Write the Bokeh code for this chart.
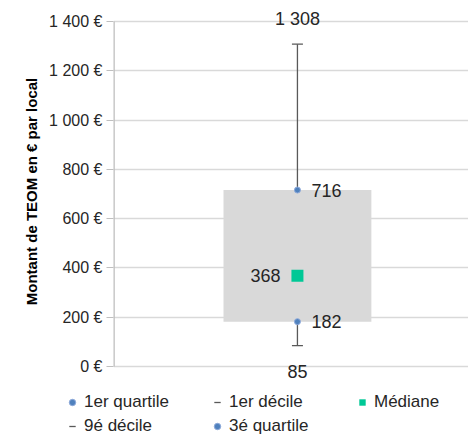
from bokeh.plotting import figure
from bokeh.layouts import column
from bokeh.models import (ColumnDataSource, Range1d, FixedTicker, Legend, LegendItem)
from bokeh.core.properties import value
from bokeh.embed import file_html
from bokeh.resources import INLINE

# ---- data ----
categories = ["TEOM"]
decile1 = [85]
quartile1 = [182]
median = [368]
quartile3 = [716]
decile9 = [1308]
y_ticks = [0, 200, 400, 600, 800, 1000, 1200, 1400]
y_tick_labels = ["0 €", "200 €", "400 €", "600 €", "800 €", "1 000 €", "1 200 €", "1 400 €"]


def fmt(v):
    return "{:,}".format(v).replace(",", " ")


# ---- layout (pixels) ----
W, H = 468, 434
LEFT = 113
LEG_H = 52
TOP_H = H - LEG_H             # main frame spans y = 0 .. TOP_H
Y0_PX, YTOP_PX = 366, 21       # pixel rows of the 0 and top-tick gridlines
ymin, ymax = y_ticks[0], y_ticks[-1]
ppu = (Y0_PX - YTOP_PX) / (ymax - ymin)
y_start = ymin - (TOP_H - Y0_PX) / ppu
y_end = ymax + YTOP_PX / ppu
x_start, x_end = 0.5, 1.465

xpos = [1.0 for _ in categories]
src = ColumnDataSource(dict(
    x=xpos, d1=decile1, q1=quartile1, med=median, q3=quartile3, d9=decile9,
    d1_t=[fmt(v) for v in decile1], q1_t=[fmt(v) for v in quartile1],
    med_t=[fmt(v) for v in median], q3_t=[fmt(v) for v in quartile3],
    d9_t=[fmt(v) for v in decile9],
))

FONT = "Liberation Sans"
WHISK = "#595959"
BLUE = "#4f81bd"
BLUE_EDGE = "#8eaadb"
GREEN = "#00c896"

p = figure(width=W, height=TOP_H, output_backend="svg", toolbar_location=None,
           x_range=Range1d(x_start, x_end), y_range=Range1d(y_start, y_end),
           min_border_left=LEFT, min_border_right=0, min_border_top=0,
           min_border_bottom=0)
p.outline_line_color = None
p.background_fill_color = "white"
p.border_fill_color = "white"
p.frame_align = False

# axis line (only over the tick span)
p.segment(x0=[x_start], x1=[x_start], y0=[ymin], y1=[ymax], line_color="#bfbfbf", line_width=2.6)

# box (interquartile)
p.vbar(x="x", width=0.402, bottom="q1", top="q3", source=src,
       fill_color="#d9d9d9", line_color=None)

# whiskers
p.segment(x0="x", x1="x", y0="d1", y1="q1", source=src, line_color=WHISK, line_width=1.3)
p.segment(x0="x", x1="x", y0="q3", y1="d9", source=src, line_color=WHISK, line_width=1.3)
p.scatter(x="x", y="d1", source=src, marker="dash", size=11, line_color=WHISK, line_width=1.3)
p.scatter(x="x", y="d9", source=src, marker="dash", size=11, line_color=WHISK, line_width=1.3)

# quartile points
p.scatter(x="x", y="q1", source=src, marker="circle", size=6,
          fill_color=BLUE, line_color=BLUE_EDGE, line_width=1)
p.scatter(x="x", y="q3", source=src, marker="circle", size=6,
          fill_color=BLUE, line_color=BLUE_EDGE, line_width=1)

# median
p.scatter(x="x", y="med", source=src, marker="square", size=12,
          fill_color=GREEN, line_color=None)

# data labels
lab = dict(source=src, text_font=value(FONT), text_font_size="18px", text_color="#262626")
p.text(x="x", y="q3", text="q3_t", x_offset=14, text_baseline="middle", text_align="left", **lab)
p.text(x="x", y="q1", text="q1_t", x_offset=14, text_baseline="middle", text_align="left", **lab)
p.text(x="x", y="med", text="med_t", x_offset=-17, text_baseline="middle", text_align="right", **lab)
p.text(x="x", y="d1", text="d1_t", y_offset=26, text_baseline="middle", text_align="center", **lab)
p.text(x="x", y="d9", text="d9_t", y_offset=-25, text_baseline="middle", text_align="center", **lab)

# axes
p.xaxis.visible = False
p.xgrid.visible = False
p.ygrid.grid_line_color = "#d9d9d9"
p.ygrid.grid_line_width = 1.3
p.yaxis.ticker = FixedTicker(ticks=y_ticks)
p.yaxis.major_label_overrides = {t: l for t, l in zip(y_ticks, y_tick_labels)}
p.yaxis.axis_line_color = None
p.yaxis.major_tick_line_color = "#bfbfbf"
p.yaxis.major_tick_out = 7
p.yaxis.major_tick_in = 0
p.yaxis.minor_tick_line_color = None
p.yaxis.major_label_standoff = 4
p.yaxis.major_label_text_font = FONT
p.yaxis.major_label_text_font_size = "16px"
p.yaxis.major_label_text_color = "#262626"
p.yaxis.axis_label = "Montant de TEOM en € par local"
p.yaxis.axis_label_text_font = FONT
p.yaxis.axis_label_text_font_size = "15px"
p.yaxis.axis_label_text_font_style = "bold"
p.yaxis.axis_label_text_color = "#000000"
p.yaxis.axis_label_standoff = 6

# ---- legend strip (same data, drawn out of view; only the legend is visible) ----
lg = figure(width=W, height=LEG_H, output_backend="svg", toolbar_location=None,
            x_range=Range1d(0, 1), y_range=Range1d(-2, -1),
            min_border_left=0, min_border_right=0, min_border_top=0, min_border_bottom=0)
lg.frame_align = False
lg.axis.visible = False
lg.grid.visible = False
lg.outline_line_color = None
l_q1 = lg.scatter(x="x", y="q1", source=src, marker="circle", size=6,
                  fill_color=BLUE, line_color=BLUE_EDGE, line_width=1)
l_d1 = lg.scatter(x="x", y="d1", source=src, marker="dash", size=11, line_color=WHISK, line_width=1.3)
l_med = lg.scatter(x="x", y="med", source=src, marker="square", size=12,
                   fill_color=GREEN, line_color=None)
l_d9 = lg.scatter(x="x", y="d9", source=src, marker="dash", size=11, line_color=WHISK, line_width=1.3)
l_q3 = lg.scatter(x="x", y="q3", source=src, marker="circle", size=6,
                  fill_color=BLUE, line_color=BLUE_EDGE, line_width=1)

legend = Legend(items=[
    LegendItem(label="1er quartile", renderers=[l_q1]),
    LegendItem(label="1er décile", renderers=[l_d1]),
    LegendItem(label="Médiane", renderers=[l_med]),
    LegendItem(label="9é décile", renderers=[l_d9]),
    LegendItem(label="3é quartile", renderers=[l_q3]),
], orientation="horizontal", ncols=3, location=(64, -2),
    label_text_font=FONT, label_text_font_size="17px", label_text_color="#262626",
    glyph_width=16, glyph_height=20, label_standoff=4, spacing=4,
    label_width=121, label_height=20, padding=0, margin=0, border_line_color=None,
    background_fill_alpha=0)
lg.add_layout(legend, "center")

layout = column(p, lg, spacing=0)
open("out.html", "w").write(file_html(layout, INLINE))
